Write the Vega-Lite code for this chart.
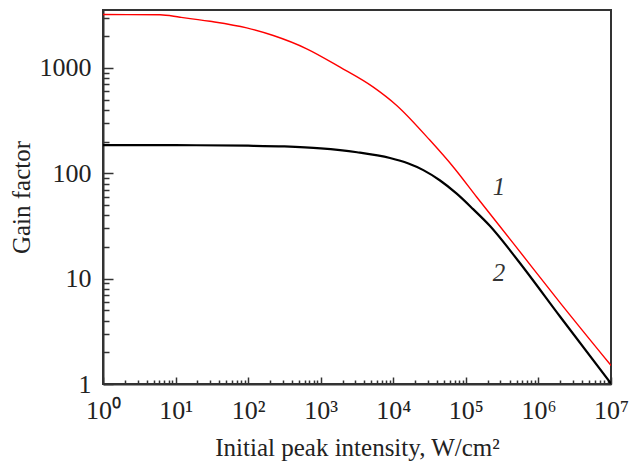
{
  "$schema": "https://vega.github.io/schema/vega-lite/v6.json",
  "width": 508,
  "height": 374,
  "autosize": {"type": "none"},
  "padding": {"left": 103, "top": 10, "right": 28, "bottom": 82},
  "background": "white",
  "config": {
    "view": {"stroke": "#333", "strokeWidth": 2},
    "font": "Liberation Serif"
  },
  "datasets": {
    "curves": [
      {"curve": "1", "intensity": 1, "gain": 3215},
      {"curve": "1", "intensity": 6.1, "gain": 3200},
      {"curve": "1", "intensity": 11.5, "gain": 3034},
      {"curve": "1", "intensity": 29.8, "gain": 2773},
      {"curve": "1", "intensity": 95.5, "gain": 2400},
      {"curve": "1", "intensity": 222, "gain": 2033},
      {"curve": "1", "intensity": 641, "gain": 1521},
      {"curve": "1", "intensity": 1845, "gain": 1018},
      {"curve": "1", "intensity": 5309, "gain": 658},
      {"curve": "1", "intensity": 11143, "gain": 441},
      {"curve": "1", "intensity": 32063, "gain": 205.6},
      {"curve": "1", "intensity": 67143, "gain": 114.8},
      {"curve": "1", "intensity": 140929, "gain": 59.6},
      {"curve": "1", "intensity": 457088, "gain": 21.4},
      {"curve": "1", "intensity": 1995262, "gain": 5.89},
      {"curve": "1", "intensity": 10000000, "gain": 1.5},
      {"curve": "2", "intensity": 1, "gain": 185.3},
      {"curve": "2", "intensity": 10, "gain": 184.9},
      {"curve": "2", "intensity": 100, "gain": 182.8},
      {"curve": "2", "intensity": 316, "gain": 179.9},
      {"curve": "2", "intensity": 1000, "gain": 172.6},
      {"curve": "2", "intensity": 3162, "gain": 158.5},
      {"curve": "2", "intensity": 9016, "gain": 139.6},
      {"curve": "2", "intensity": 15849, "gain": 124.5},
      {"curve": "2", "intensity": 25942, "gain": 107.2},
      {"curve": "2", "intensity": 43652, "gain": 85.9},
      {"curve": "2", "intensity": 74817, "gain": 64.1},
      {"curve": "2", "intensity": 125893, "gain": 45.7},
      {"curve": "2", "intensity": 215278, "gain": 31.6},
      {"curve": "2", "intensity": 524807, "gain": 14.8},
      {"curve": "2", "intensity": 1995262, "gain": 4.35},
      {"curve": "2", "intensity": 10000000, "gain": 1.01}
    ],
    "labels": [
      {"label": "1", "intensity": 286000, "gain": 73.6},
      {"label": "2", "intensity": 286000, "gain": 11.3}
    ]
  },
  "layer": [
    {
      "data": {"name": "curves"},
      "mark": {"type": "line", "interpolate": "monotone", "clip": true},
      "encoding": {
        "x": {
          "field": "intensity",
          "type": "quantitative",
          "scale": {"type": "log", "domain": [1, 10000000], "nice": false},
          "axis": {
            "values": [1,2,3,4,5,6,7,8,9,10,20,30,40,50,60,70,80,90,100,200,300,400,500,600,700,800,900,1000,2000,3000,4000,5000,6000,7000,8000,9000,10000,20000,30000,40000,50000,60000,70000,80000,90000,100000,200000,300000,400000,500000,600000,700000,800000,900000,1000000,2000000,3000000,4000000,5000000,6000000,7000000,8000000,9000000,10000000],
            "labelExpr": "abs(log(datum.value)/LN10 - round(log(datum.value)/LN10)) < 0.001 ? '10' + ['⁰','¹','²','³','⁴','⁵','⁶','⁷'][round(log(datum.value)/LN10)] : ''",
            "title": "Initial peak intensity, W/cm²",
            "grid": false,
            "domainColor": "#333",
            "domainWidth": 2,
            "tickColor": "#333",
            "tickWidth": 1.5,
            "tickSize": {"condition": {"test": "abs(log(datum.value)/LN10 - round(log(datum.value)/LN10)) < 0.001", "value": -7}, "value": -4},
            "labelFont": "Liberation Serif",
            "labelFontSize": 26,
            "labelColor": "#222",
            "labelPadding": 20,
            "labelFlush": false,
            "labelOverlap": false,
            "titleFont": "Liberation Serif",
            "titleFontSize": 25,
            "titleFontWeight": "normal",
            "titleColor": "#222",
            "titlePadding": 9
          }
        },
        "y": {
          "field": "gain",
          "type": "quantitative",
          "scale": {"type": "log", "domain": [1, 3550], "nice": false},
          "axis": {
            "values": [1,2,3,4,5,6,7,8,9,10,20,30,40,50,60,70,80,90,100,200,300,400,500,600,700,800,900,1000,2000,3000],
            "labelExpr": "abs(log(datum.value)/LN10 - round(log(datum.value)/LN10)) < 0.001 ? '' + round(datum.value) : ''",
            "title": "Gain factor",
            "grid": false,
            "domainColor": "#333",
            "domainWidth": 2,
            "tickColor": "#333",
            "tickWidth": 1.5,
            "tickSize": {"condition": {"test": "abs(log(datum.value)/LN10 - round(log(datum.value)/LN10)) < 0.001", "value": -10}, "value": -6},
            "labelFont": "Liberation Serif",
            "labelFontSize": 26,
            "labelColor": "#222",
            "labelPadding": 22,
            "labelFlush": false,
            "labelOverlap": false,
            "titleFont": "Liberation Serif",
            "titleFontSize": 25,
            "titleFontWeight": "normal",
            "titleColor": "#222",
            "titlePadding": 5
          }
        },
        "color": {
          "field": "curve",
          "type": "nominal",
          "scale": {"domain": ["1", "2"], "range": ["#ff0000", "#000000"]},
          "legend": null
        },
        "strokeWidth": {
          "field": "curve",
          "type": "nominal",
          "scale": {"domain": ["1", "2"], "range": [1.4, 2.2]},
          "legend": null
        }
      }
    },
    {
      "data": {"name": "labels"},
      "mark": {"type": "text", "font": "Liberation Serif", "fontStyle": "italic", "fontSize": 25, "color": "#333", "baseline": "middle", "align": "center"},
      "encoding": {
        "x": {"field": "intensity", "type": "quantitative"},
        "y": {"field": "gain", "type": "quantitative"},
        "text": {"field": "label"}
      }
    }
  ]
}
